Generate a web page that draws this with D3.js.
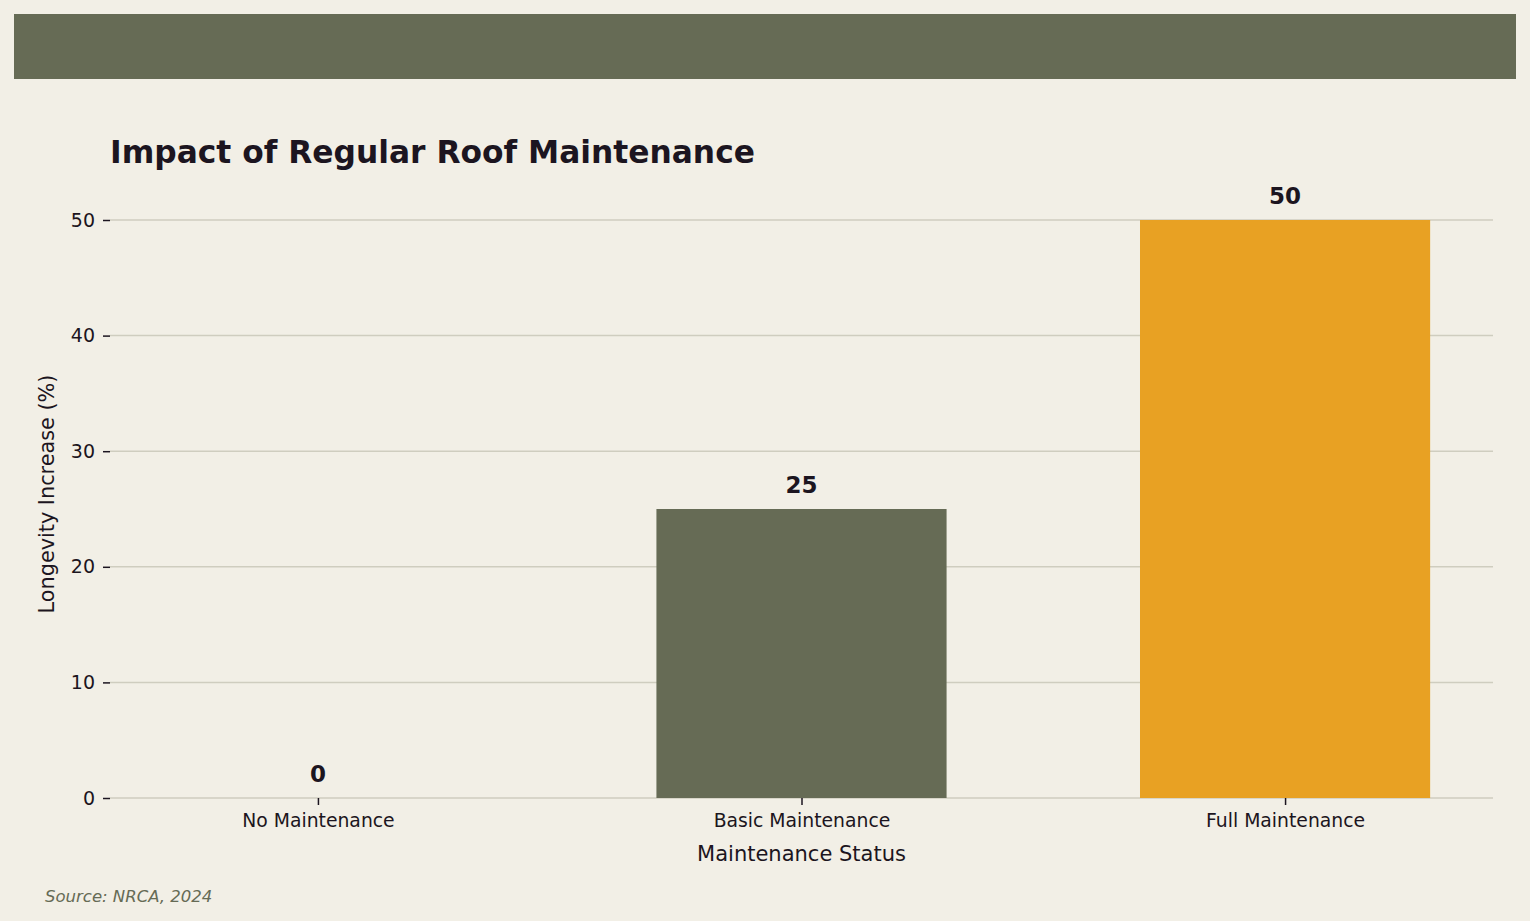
<!DOCTYPE html>
<html>
<head>
<meta charset="utf-8">
<script src="https://cdn.jsdelivr.net/npm/d3@7"></script>
<style>
  body { margin: 0; background: #f2efe6; }
  text { font-family: "DejaVu Sans", sans-serif; }
</style>
</head>
<body>
<div id="chart"></div>
<script>
var categories = ["No Maintenance", "Basic Maintenance", "Full Maintenance"];
var values = [0, 25, 50];
var barColors = ["#666b55", "#666b55", "#e8a123"];
var yTicks = [0, 10, 20, 30, 40, 50];

var svgWidth = 1530, svgHeight = 921;
var margin = { top: 220, right: 37, bottom: 123, left: 110 };
var width = svgWidth - margin.left - margin.right;
var height = svgHeight - margin.top - margin.bottom;

var svg = d3.select("#chart").append("svg")
  .attr("width", svgWidth)
  .attr("height", svgHeight);

svg.append("rect").attr("width", svgWidth).attr("height", svgHeight).attr("fill", "#f2efe6");
// header band
svg.append("rect").attr("x", 14).attr("y", 14).attr("width", 1502).attr("height", 65).attr("fill", "#666b55");

svg.append("text")
  .attr("x", 110).attr("y", 163)
  .attr("font-size", 31.3).attr("font-weight", "bold")
  .attr("fill", "#1c1520")
  .text("Impact of Regular Roof Maintenance");

var chartGroup = svg.append("g")
  .attr("transform", `translate(${margin.left}, ${margin.top})`);

var x = d3.scaleLinear().domain([-0.43, 2.43]).range([0, width]);
var y = d3.scaleLinear().domain([0, 50]).range([height, 0]);
var barW = x(0.6) - x(0);

// gridlines
chartGroup.selectAll(".grid").data(yTicks).enter().append("line")
  .attr("x1", 0).attr("x2", width)
  .attr("y1", d => y(d)).attr("y2", d => y(d))
  .attr("stroke", "#cfcdbf").attr("stroke-width", 1.5);

var leftAxis = d3.axisLeft(y).tickValues(yTicks).tickSize(7).tickPadding(8);
var yAxis = chartGroup.append("g").call(leftAxis);
yAxis.select(".domain").remove();
yAxis.selectAll("line").attr("stroke", "#1c1520").attr("stroke-width", 1.5);
yAxis.selectAll("text").attr("font-size", 19).attr("fill", "#1c1520");

var bottomAxis = d3.axisBottom(x).tickValues([0, 1, 2]).tickFormat(i => categories[i]).tickSize(7).tickPadding(9);
var xAxis = chartGroup.append("g").attr("transform", `translate(0, ${height})`).call(bottomAxis);
xAxis.select(".domain").remove();
xAxis.selectAll("line").attr("stroke", "#1c1520").attr("stroke-width", 1.5);
xAxis.selectAll("text").attr("font-size", 18.8).attr("fill", "#1c1520");

chartGroup.selectAll(".bar").data(values).enter().append("rect")
  .attr("x", (d, i) => x(i) - barW / 2)
  .attr("y", d => y(d))
  .attr("width", barW)
  .attr("height", d => height - y(d))
  .attr("fill", (d, i) => barColors[i]);

chartGroup.selectAll(".val").data(values).enter().append("text")
  .attr("x", (d, i) => x(i))
  .attr("y", d => y(d) - 16)
  .attr("text-anchor", "middle")
  .attr("font-size", 23).attr("font-weight", "bold").attr("fill", "#1c1520")
  .text(d => d);

chartGroup.append("text")
  .attr("x", width / 2).attr("y", height + 63)
  .attr("text-anchor", "middle").attr("font-size", 21).attr("fill", "#1c1520")
  .text("Maintenance Status");

chartGroup.append("text")
  .attr("transform", "rotate(-90)")
  .attr("x", -274).attr("y", -56)
  .attr("text-anchor", "middle").attr("font-size", 20.8).attr("fill", "#1c1520")
  .text("Longevity Increase (%)");

svg.append("text")
  .attr("x", 45).attr("y", 902)
  .attr("font-size", 16.5).attr("font-style", "italic").attr("fill", "#666b55")
  .text("Source: NRCA, 2024");
</script>
</body>
</html>
